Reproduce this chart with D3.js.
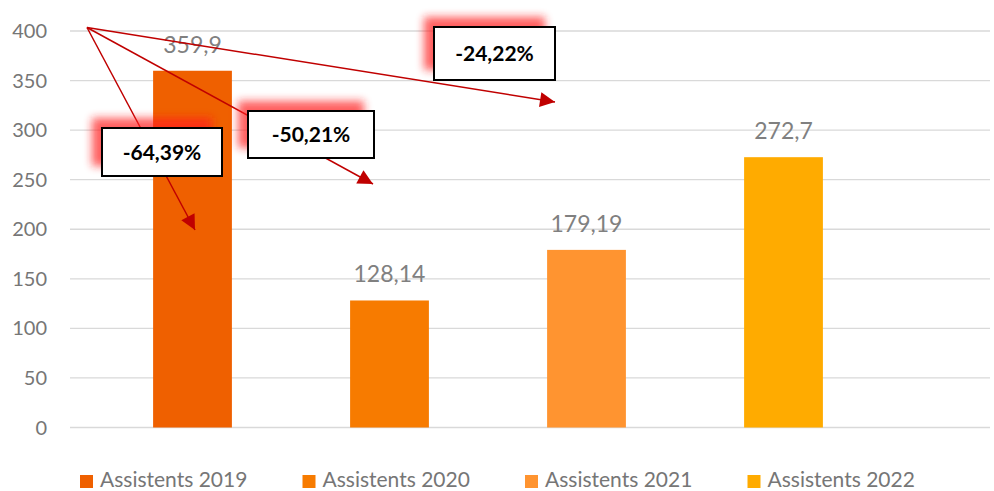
<!DOCTYPE html>
<html>
<head>
<meta charset="utf-8">
<script src="https://cdn.jsdelivr.net/npm/d3@7"></script>
<style>
    body { margin: 0; background: #fff; }
    svg { display: block; font-family: Lato, "Open Sans", sans-serif; }
</style>
</head>
<body>
<svg id="chart"></svg>
<script>
// data
var series = ["Assistents 2019", "Assistents 2020", "Assistents 2021", "Assistents 2022"];
var values = [359.9, 128.14, 179.19, 272.7];
var valueLabels = ["359,9", "128,14", "179,19", "272,7"];
var yTicks = [0, 50, 100, 150, 200, 250, 300, 350, 400];
var changeLabels = ["-64,39%", "-50,21%", "-24,22%"];

var colors = ["#ef6000", "#f77b00", "#ff9430", "#ffab00"];

var width = 994, height = 491;
var plot = { left: 70, right: 990, top: 31, bottom: 427.5 };

var svg = d3.select("#chart").attr("width", width).attr("height", height);

var x = d3.scaleBand()
    .domain(series)
    .range([94, 882])
    .paddingInner(0.6)
    .paddingOuter(0.3);

var y = d3.scaleLinear()
    .domain([0, 400])
    .range([plot.bottom, plot.top]);

// gridlines
svg.append("g")
    .selectAll("line")
    .data(yTicks)
    .enter()
    .append("line")
    .attr("x1", plot.left)
    .attr("x2", plot.right)
    .attr("y1", function (d) { return y(d); })
    .attr("y2", function (d) { return y(d); })
    .attr("stroke", "#d9d9d9")
    .attr("stroke-width", 1.3);

// y axis labels
svg.append("g")
    .selectAll("text")
    .data(yTicks)
    .enter()
    .append("text")
    .attr("x", 47)
    .attr("y", function (d) { return y(d); })
    .attr("dy", "0.35em")
    .attr("text-anchor", "end")
    .attr("font-size", 20)
    .attr("fill", "#767676")
    .text(function (d) { return d; });

// bars
svg.append("g")
    .selectAll("rect")
    .data(values)
    .enter()
    .append("rect")
    .attr("x", function (d, i) { return x(series[i]); })
    .attr("y", function (d) { return y(d); })
    .attr("width", x.bandwidth())
    .attr("height", function (d) { return y(0) - y(d); })
    .attr("fill", function (d, i) { return colors[i]; });

// value labels
svg.append("g")
    .selectAll("text")
    .data(values)
    .enter()
    .append("text")
    .attr("x", function (d, i) { return x(series[i]) + x.bandwidth() / 2; })
    .attr("y", function (d) { return y(d) - 18; })
    .attr("text-anchor", "middle")
    .attr("font-size", 23)
    .attr("fill", "#808080")
    .text(function (d, i) { return valueLabels[i]; });

// legend
var legend = svg.append("g")
    .selectAll("g")
    .data(series)
    .enter()
    .append("g")
    .attr("transform", function (d, i) { return "translate(" + (80 + i * 222.5) + ",0)"; });

legend.append("rect")
    .attr("x", 0)
    .attr("y", 475)
    .attr("width", 13)
    .attr("height", 13)
    .attr("fill", function (d, i) { return colors[i]; });

legend.append("text")
    .attr("x", 20)
    .attr("y", 487)
    .attr("font-size", 21)
    .attr("fill", "#767676")
    .text(function (d) { return d; });

// annotations: arrows from one origin to a point, with a boxed label
var defs = svg.append("defs");
defs.append("marker")
    .attr("id", "head")
    .attr("viewBox", "0 0 10 10")
    .attr("refX", 10)
    .attr("refY", 5)
    .attr("markerUnits", "userSpaceOnUse")
    .attr("markerWidth", 17)
    .attr("markerHeight", 15)
    .attr("orient", "auto")
    .append("path")
    .attr("d", "M0,0L10,5L0,10Z")
    .attr("fill", "#c00000");

defs.append("filter")
    .attr("id", "glow")
    .attr("x", "-30%").attr("y", "-50%")
    .attr("width", "160%").attr("height", "200%")
    .append("feGaussianBlur")
    .attr("stdDeviation", 4);

var origin = { x: 87, y: 27.5 };
var arrowEnds = [{ x: 195, y: 230 }, { x: 373, y: 184 }, { x: 555, y: 102 }];
var boxes = [
    { x: 102, y: 128, w: 120, h: 48 },
    { x: 248, y: 111, w: 126, h: 47 },
    { x: 434, y: 27, w: 121, h: 53 }
];

var ann = svg.append("g");
ann.selectAll("line")
    .data(arrowEnds)
    .enter()
    .append("line")
    .attr("x1", origin.x)
    .attr("y1", origin.y)
    .attr("x2", function (d) { return d.x; })
    .attr("y2", function (d) { return d.y; })
    .attr("stroke", "#c00000")
    .attr("stroke-width", 1.5)
    .attr("marker-end", "url(#head)");

var lab = ann.selectAll(".lab")
    .data(boxes)
    .enter()
    .append("g")
    .attr("class", "lab");

lab.append("rect")
    .attr("x", function (d) { return d.x - 10; })
    .attr("y", function (d) { return d.y - 10; })
    .attr("width", function (d) { return d.w; })
    .attr("height", function (d) { return d.h; })
    .attr("fill", "#ff1a1a")
    .attr("opacity", 0.7)
    .attr("filter", "url(#glow)");

lab.append("rect")
    .attr("x", function (d) { return d.x; })
    .attr("y", function (d) { return d.y; })
    .attr("width", function (d) { return d.w; })
    .attr("height", function (d) { return d.h; })
    .attr("fill", "#fff")
    .attr("stroke", "#000")
    .attr("stroke-width", 2);

lab.append("text")
    .attr("x", function (d) { return d.x + d.w / 2; })
    .attr("y", function (d) { return d.y + d.h / 2; })
    .attr("dy", "0.36em")
    .attr("text-anchor", "middle")
    .attr("font-size", 21)
    .attr("font-weight", "bold")
    .attr("fill", "#000")
    .text(function (d, i) { return changeLabels[i]; });
</script>
</body>
</html>
